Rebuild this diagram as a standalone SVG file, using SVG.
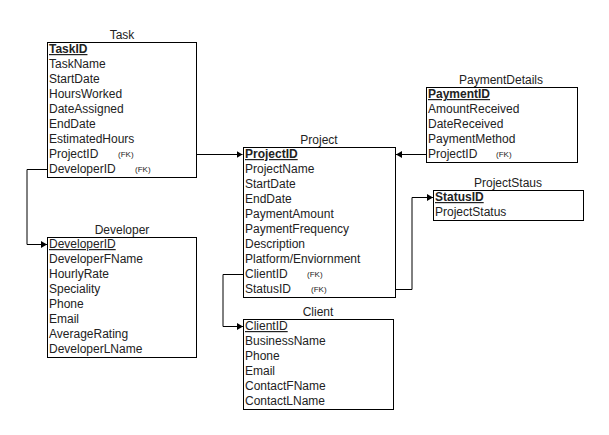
<svg xmlns="http://www.w3.org/2000/svg" width="609" height="435" viewBox="0 0 609 435">
  <style>
    .box { fill: #ffffff; stroke: #000000; stroke-width: 1; }
    .title { font-family: "Liberation Sans", Arial, sans-serif; font-size: 12px; fill: #222; text-anchor: middle; }
    .f { font-family: "Liberation Sans", Arial, sans-serif; font-size: 12px; fill: #222; }
    .pk { text-decoration: underline; }
    .b { font-weight: bold; }
    .fk { font-family: "Liberation Sans", Arial, sans-serif; font-size: 8px; fill: #222; }
    .conn { fill: none; stroke: #000000; stroke-width: 1; }
  </style>
  <defs>
    <marker id="block" markerWidth="7" markerHeight="8" refX="6" refY="4" orient="auto" markerUnits="userSpaceOnUse">
      <path d="M0,0.5 L6,4 L0,7.5 Z" fill="#000000"/>
    </marker>
  </defs>
  <rect width="609" height="435" fill="#ffffff"/>

  <!-- relationship lines -->
  <g id="connectors">
    <path class="conn" d="M196.5,154.5 H242.5" marker-end="url(#block)"/>
    <path class="conn" d="M47,169.5 H27 V244.5 H47" marker-end="url(#block)"/>
    <path class="conn" d="M426.5,154.5 H396" marker-end="url(#block)"/>
    <path class="conn" d="M243,274.5 H223 V326.5 H243" marker-end="url(#block)"/>
    <path class="conn" d="M395.5,289.5 H412 V197.5 H433" marker-end="url(#block)"/>
  </g>

  <g id="task">
    <text class="title" x="122" y="39">Task</text>
    <rect class="box" x="47.5" y="42.5" width="149" height="135"/>
    <text class="f pk b" x="49" y="53">TaskID</text>
    <text class="f" x="49" y="68">TaskName</text>
    <text class="f" x="49" y="83">StartDate</text>
    <text class="f" x="49" y="98">HoursWorked</text>
    <text class="f" x="49" y="113">DateAssigned</text>
    <text class="f" x="49" y="128">EndDate</text>
    <text class="f" x="49" y="143">EstimatedHours</text>
    <text class="f" x="49" y="158">ProjectID</text>
    <text class="fk" x="118" y="157">(FK)</text>
    <text class="f" x="49" y="173">DeveloperID</text>
    <text class="fk" x="135" y="172">(FK)</text>
  </g>

  <g id="developer">
    <text class="title" x="122" y="234">Developer</text>
    <rect class="box" x="47.5" y="237.5" width="149" height="120"/>
    <text class="f pk" x="49" y="248">DeveloperID</text>
    <text class="f" x="49" y="263">DeveloperFName</text>
    <text class="f" x="49" y="278">HourlyRate</text>
    <text class="f" x="49" y="293">Speciality</text>
    <text class="f" x="49" y="308">Phone</text>
    <text class="f" x="49" y="323">Email</text>
    <text class="f" x="49" y="338">AverageRating</text>
    <text class="f" x="49" y="353">DeveloperLName</text>
  </g>

  <g id="project">
    <text class="title" x="319" y="144">Project</text>
    <rect class="box" x="243.5" y="147.5" width="152" height="150"/>
    <text class="f pk b" x="245" y="158">ProjectID</text>
    <text class="f" x="245" y="173">ProjectName</text>
    <text class="f" x="245" y="188">StartDate</text>
    <text class="f" x="245" y="203">EndDate</text>
    <text class="f" x="245" y="218">PaymentAmount</text>
    <text class="f" x="245" y="233">PaymentFrequency</text>
    <text class="f" x="245" y="248">Description</text>
    <text class="f" x="245" y="263">Platform/Enviornment</text>
    <text class="f" x="245" y="278">ClientID</text>
    <text class="fk" x="307" y="277">(FK)</text>
    <text class="f" x="245" y="293">StatusID</text>
    <text class="fk" x="311" y="292">(FK)</text>
  </g>

  <g id="client">
    <text class="title" x="318" y="316">Client</text>
    <rect class="box" x="243.5" y="319.5" width="150" height="90"/>
    <text class="f pk" x="245" y="330">ClientID</text>
    <text class="f" x="245" y="345">BusinessName</text>
    <text class="f" x="245" y="360">Phone</text>
    <text class="f" x="245" y="375">Email</text>
    <text class="f" x="245" y="390">ContactFName</text>
    <text class="f" x="245" y="405">ContactLName</text>
  </g>

  <g id="payment-details">
    <text class="title" x="501" y="84">PaymentDetails</text>
    <rect class="box" x="426.5" y="87.5" width="151" height="75"/>
    <text class="f pk b" x="428" y="98">PaymentID</text>
    <text class="f" x="428" y="113">AmountReceived</text>
    <text class="f" x="428" y="128">DateReceived</text>
    <text class="f" x="428" y="143">PaymentMethod</text>
    <text class="f" x="428" y="158">ProjectID</text>
    <text class="fk" x="496" y="157">(FK)</text>
  </g>

  <g id="project-status">
    <text class="title" x="508" y="187">ProjectStaus</text>
    <rect class="box" x="433.5" y="190.5" width="150" height="30"/>
    <text class="f pk b" x="435" y="201">StatusID</text>
    <text class="f" x="435" y="216">ProjectStatus</text>
  </g>
</svg>
